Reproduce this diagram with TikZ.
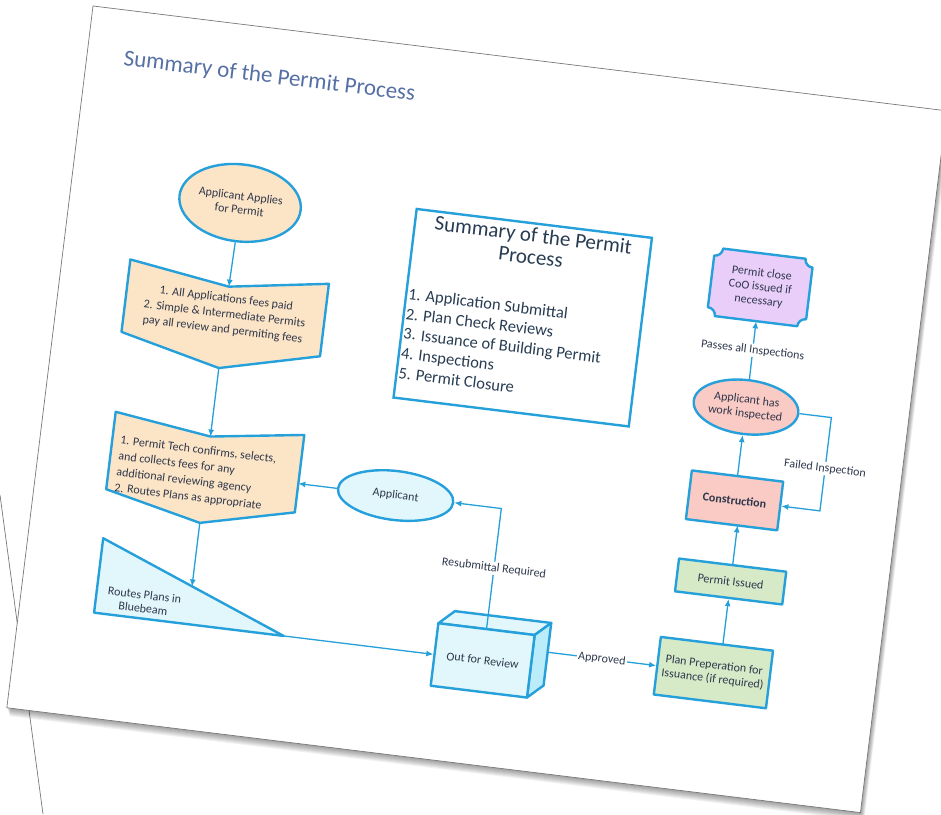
\documentclass[tikz,border=0pt]{standalone}
\usepackage{fontspec}
\setmainfont{Carlito}
\usetikzlibrary{arrows.meta,shapes.geometric}
\definecolor{bord}{RGB}{38,160,218}
\definecolor{txt}{RGB}{45,55,75}
\definecolor{ttl}{RGB}{86,112,165}
\definecolor{peach}{RGB}{252,228,198}
\definecolor{cyanl}{RGB}{226,247,252}
\definecolor{cyand}{RGB}{186,236,250}
\definecolor{greenl}{RGB}{214,234,200}
\definecolor{pinkl}{RGB}{250,202,196}
\definecolor{lav}{RGB}{234,206,250}
\definecolor{sumtxt}{RGB}{40,60,82}
\definecolor{pageedge}{RGB}{120,120,120}
\tikzset{
  shapeline/.style={draw=bord, line width=2.4pt, line join=round},
  boxtext/.style={text=txt, font=\fontsize{12}{14}\selectfont, align=center, inner sep=0pt},
  conn/.style={draw=bord, line width=1.3pt, -{Latex[length=7pt,width=6pt]}},
  lbl/.style={fill=white, text=txt, font=\fontsize{12}{14}\selectfont, inner sep=1.5pt},
  flowbox/.style={shapeline, rectangle, boxtext, inner sep=0pt},
  flowell/.style={shapeline, ellipse, boxtext, inner sep=0pt}
}
\begin{document}
\begin{tikzpicture}[x=1pt,y=1pt]
\useasboundingbox (0,0) rectangle (941,-814);
\fill[white] (0,0) rectangle (941,-814);
% back page edge
\draw[pageedge, line width=0.7pt] (0,-495) -- (43,-814);
\begin{scope}[shift={(93,-6)}, rotate=-7, transform shape]
  % page shadow
  \foreach \k in {1,...,8} {
    \fill[black, opacity=0.05] (0.5*\k,-1.0*\k) rectangle (860+0.6*\k,-707-1.0*\k);
  }
  % page
  \fill[white] (0,0) rectangle (860,-707);
  \draw[pageedge, line width=0.7pt] (0,0) rectangle (860,-707);

  % page title
  \node[anchor=base west, text=ttl, font=\fontsize{23}{26}\selectfont, inner sep=0pt] (title) at (37,-55) {Summary of the Permit Process};

  % start ellipse
  \node[flowell, fill=peach, minimum width=122, minimum height=77] (start) at (170,-177.5) {Applicant Applies\\for Permit};

  % box 1 (chevron)
  \filldraw[shapeline, fill=peach] (68,-247) -- (169,-262) -- (268,-247) -- (268,-320) -- (169,-344) -- (68,-320) -- cycle;
  \coordinate (b1n) at (169,-262);
  \coordinate (b1t) at (169,-344);
  \node[boxtext, font=\fontsize{12}{15.5}\selectfont] (b1) at (168,-290) {1. All Applications fees paid\\2. Simple \& Intermediate Permits\\pay all review and permiting fees};

  % box 2 (chevron)
  \filldraw[shapeline, fill=peach] (72,-400) -- (169,-413) -- (262,-400) -- (262,-478) -- (169,-500) -- (72,-478) -- cycle;
  \coordinate (b2n) at (169,-413);
  \coordinate (b2t) at (169,-500);
  \coordinate (b2e) at (262,-449);
  \node[boxtext, align=left, anchor=west, font=\fontsize{12}{16}\selectfont] (b2) at (80,-452) {1. Permit Tech confirms, selects,\\and collects fees for any\\additional reviewing agency\\2. Routes Plans as appropriate};

  % triangle
  \filldraw[shapeline, fill=cyanl] (75,-527) -- (266,-602) -- (75,-602) -- cycle;
  \coordinate (trin) at (169,-564);
  \coordinate (trbr) at (266,-602);
  \node[boxtext, font=\fontsize{12}{13.5}\selectfont] (tri) at (123,-585) {Routes Plans in\\Bluebeam};

  % cube: out for review
  \filldraw[shapeline, fill=cyanl] (418,-570.5) -- (433,-556.5) -- (530,-556.5) -- (515,-570.5) -- cycle;
  \filldraw[shapeline, fill=cyand] (515,-570.5) -- (530,-556.5) -- (530,-619.5) -- (515,-633.5) -- cycle;
  \node[flowbox, fill=cyanl, minimum width=97, minimum height=63] (review) at (466.5,-602) {Out for Review};
  \coordinate (revr) at (530,-586);

  % applicant ellipse
  \node[flowell, fill=cyanl, minimum width=116, minimum height=49] (appl) at (360,-449) {Applicant};
  \coordinate (rsc) at (466.5,-449);

  % summary box
  \node[draw=bord, line width=2.4pt, minimum width=237, minimum height=190, inner sep=0pt] (sumbox) at (464.5,-257) {};
  \node[text=sumtxt, font=\fontsize{21}{22}\selectfont, align=center, inner sep=0pt] (sumtitle) at (465,-184.5) {Summary of the Permit\\Process};
  \node[text=sumtxt, font=\fontsize{16.5}{20}\selectfont, align=left, anchor=west, inner sep=0pt] (sumlist) at (348,-287) {1. Application Submittal\\2. Plan Check Reviews\\3. Issuance of Building Permit\\4. Inspections\\5. Permit Closure};

  % right column
  \node[flowbox, fill=greenl, minimum width=113, minimum height=58] (plan) at (697,-586) {Plan Preperation for\\Issuance (if required)};
  \coordinate (pa) at (703,-557);
  \node[flowbox, fill=greenl, minimum width=108, minimum height=33] (issued) at (703,-493.5) {Permit Issued};
  \coordinate (cb) at (703,-437);
  \node[flowbox, fill=pinkl, minimum width=92, minimum height=49, font=\fontsize{12}{14}\selectfont\bfseries] (constr) at (697,-412.5) {Construction};
  \node[flowell, fill=pinkl, minimum width=104, minimum height=54] (insp) at (697,-318.5) {Applicant has\\work inspected};
  \coordinate (fa) at (783,-318.5);
  \coordinate (fb) at (783,-412.5);

  % plaque
  \filldraw[shapeline, fill=lav] (655,-164) -- (738,-164) arc[start angle=180, end angle=270, radius=8] -- (746,-224) arc[start angle=90, end angle=180, radius=8] -- (655,-232) arc[start angle=0, end angle=90, radius=8] -- (647,-172) arc[start angle=270, end angle=360, radius=8] -- cycle;
  \node[boxtext, minimum width=99, minimum height=68] (close) at (696.5,-198) {Permit close\\CoO issued if\\necessary};

  % connectors
  \draw[conn] (start.south) -- (b1n);
  \draw[conn] (b1t) -- (b2n);
  \draw[conn] (b2t) -- (trin);
  \draw[conn] (trbr) -- (review.west);
  \draw[conn] (review.north) -- (rsc) node[lbl, pos=0.5] {Resubmittal Required} -- (appl.east);
  \draw[conn] (appl.west) -- (b2e);
  \draw[conn] (revr) -- node[lbl] {Approved} (plan.west);
  \draw[conn] (pa) -- (issued.south);
  \draw[conn] (issued.north) -- (cb);
  \draw[conn] (constr.north) -- (insp.south);
  \draw[conn] (insp.north) -- node[lbl] {Passes all Inspections} (close.south);
  \draw[conn] (insp.east) -- (fa) -- (fb) -- (constr.east);
  \node[lbl] (faillbl) at (783,-370) {Failed Inspection};
\end{scope}
\end{tikzpicture}
\end{document}
